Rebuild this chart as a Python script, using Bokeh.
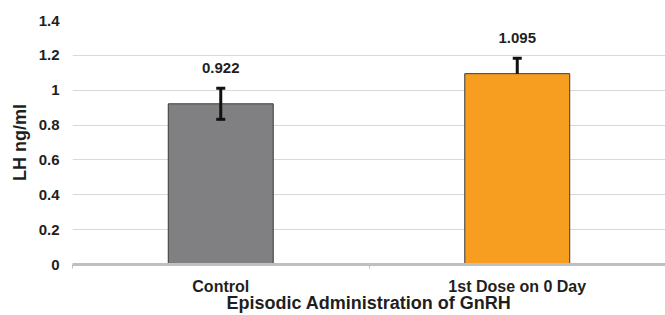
from bokeh.plotting import figure
from bokeh.models import ColumnDataSource, Range1d, FixedTicker, Whisker, TeeHead
from bokeh.embed import file_html
from bokeh.resources import INLINE
from bokeh.core.properties import value

categories = ["Control", "1st Dose on 0 Day"]
lh_values = [0.922, 1.095]
err_plus = [0.089, 0.088]
err_minus = [0.089, 0.0]
labels = ["0.922", "1.095"]
bar_colors = ["#808083", "#F79D1F"]
y_ticks = [0, 0.2, 0.4, 0.6, 0.8, 1.0, 1.2, 1.4]
y_tick_labels = ["0", "0.2", "0.4", "0.6", "0.8", "1", "1.2", "1.4"]
x_title = "Episodic Administration of GnRH"
y_title = "LH ng/ml"

FONT = "Liberation Sans"
TXT = "#1f1f1f"

xs = [i + 0.5 for i in range(len(categories))]
src = ColumnDataSource(dict(
    x=xs, top=lh_values, color=bar_colors,
    upper=[v + e for v, e in zip(lh_values, err_plus)],
    lower=[v - e for v, e in zip(lh_values, err_minus)],
    label=labels,
))
low_idx = [i for i, e in enumerate(err_minus) if e > 0]
low_src = ColumnDataSource(dict(
    x=[xs[i] for i in low_idx],
    y=[lh_values[i] - err_minus[i] for i in low_idx],
))

p = figure(width=665, height=315, output_backend="svg", toolbar_location=None,
           x_range=Range1d(0, len(categories)), y_range=Range1d(0, 1.4),
           min_border_left=72, min_border_right=0, min_border_top=20, min_border_bottom=50)
p.outline_line_color = None
p.background_fill_color = "white"
p.border_fill_color = "white"

p.vbar(x="x", top="top", width=0.354, bottom=0, fill_color="color",
       line_color="#3a3a3a", line_width=1, source=src)

wh = Whisker(base="x", upper="upper", lower="lower", source=src, dimension="height",
             line_color="#111111", line_width=3,
             upper_head=TeeHead(size=9, line_width=3, line_color="#111111"),
             lower_head=None, level="annotation")
p.add_layout(wh)
p.scatter(x="x", y="y", source=low_src, marker="dash", size=9, line_width=3,
          line_color="#111111", angle=0, level="annotation")

p.text(x="x", y="upper", text="label", source=src, y_offset=-20,
       text_align="center", text_baseline="middle",
       text_font=value(FONT), text_font_style="bold", text_font_size="15px",
       text_color=TXT)

# grid
p.xgrid.grid_line_color = None
p.ygrid.grid_line_color = "#d9d9d9"
p.ygrid.grid_line_width = 1

# y axis
p.yaxis.ticker = FixedTicker(ticks=y_ticks)
p.yaxis.major_label_overrides = {t: l for t, l in zip(y_ticks, y_tick_labels)}
p.yaxis.axis_line_color = None
p.yaxis.major_tick_line_color = None
p.yaxis.minor_tick_line_color = None
p.yaxis.major_label_standoff = 7
p.yaxis.major_label_text_font = FONT
p.yaxis.major_label_text_font_style = "bold"
p.yaxis.major_label_text_font_size = "15px"
p.yaxis.major_label_text_color = TXT
p.yaxis.axis_label = y_title
p.yaxis.axis_label_text_font = FONT
p.yaxis.axis_label_text_font_style = "bold"
p.yaxis.axis_label_text_font_size = "18px"
p.yaxis.axis_label_text_color = TXT
p.yaxis.axis_label_standoff = 6

# x axis
p.xaxis.ticker = FixedTicker(ticks=xs, minor_ticks=list(range(len(categories) + 1)))
p.xaxis.major_label_overrides = {x: c for x, c in zip(xs, categories)}
p.xaxis.axis_line_color = "#bfbfbf"
p.xaxis.axis_line_width = 3
p.xaxis.major_tick_line_color = None
p.xaxis.minor_tick_line_color = "#bfbfbf"
p.xaxis.minor_tick_out = 4
p.xaxis.minor_tick_in = 0
p.xaxis.major_label_standoff = 7
p.xaxis.major_label_text_font = FONT
p.xaxis.major_label_text_font_style = "bold"
p.xaxis.major_label_text_font_size = "16px"
p.xaxis.major_label_text_color = TXT
p.xaxis.axis_label = x_title
p.xaxis.axis_label_text_font = FONT
p.xaxis.axis_label_text_font_style = "bold"
p.xaxis.axis_label_text_font_size = "18px"
p.xaxis.axis_label_text_color = TXT
p.xaxis.axis_label_standoff = -5

open("out.html", "w").write(file_html(p, INLINE))
